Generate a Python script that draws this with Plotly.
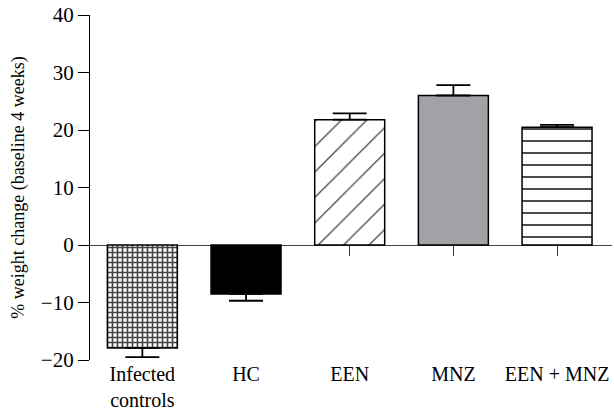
import plotly.graph_objects as go

categories = ["Infected<br>controls", "HC", "EEN", "MNZ", "EEN + MNZ"]
means = [-17.9, -8.5, 21.8, 26.0, 20.5]
errors = [1.6, 1.2, 1.1, 1.8, 0.4]
y_ticks = [-20, -10, 0, 10, 20, 30, 40]
y_title = "% weight change (baseline 4 weeks)"

fill_colors = ["white", "black", "white", "#a2a2a6", "white"]
pattern_shapes = ["+", "", "/", "", "-"]
pattern_sizes = [5, 8, 18, 8, 12]
pattern_solidity = [0.55, 0.3, 0.07, 0.3, 0.16]

err_plus = [e if m > 0 else 0 for m, e in zip(means, errors)]
err_minus = [e if m < 0 else 0 for m, e in zip(means, errors)]

FONT = "Liberation Serif"

fig = go.Figure()
fig.add_trace(go.Bar(
    x=categories, y=means, width=0.675,
    marker=dict(
        color=fill_colors,
        line=dict(color="black", width=1.5),
        pattern=dict(shape=pattern_shapes, size=pattern_sizes,
                     solidity=pattern_solidity, fgcolor="black",
                     fgopacity=1, fillmode="overlay"),
    ),
    error_y=dict(type="data", symmetric=False, array=err_plus,
                 arrayminus=err_minus, color="black", thickness=1.8, width=17),
    showlegend=False, hoverinfo="skip",
))
# invisible trace to carry the zero-crossing axis
fig.add_trace(go.Scatter(x=categories, y=[0] * len(categories), xaxis="x2",
                         mode="markers", marker=dict(opacity=0),
                         showlegend=False, hoverinfo="skip"))

xr = [-0.505, 4.53]
fig.update_layout(
    width=614, height=416,
    margin=dict(l=90, r=2, t=15, b=56),
    plot_bgcolor="white", paper_bgcolor="white",
    font=dict(family=FONT, size=20, color="black"),
    xaxis=dict(type="category", categoryarray=categories, range=xr,
               showline=False, ticks="", showgrid=False, zeroline=False,
               tickfont=dict(size=20), ticklabelstandoff=0),
    xaxis2=dict(type="category", categoryarray=categories, range=xr,
                overlaying="x", anchor="free", position=1/3, side="bottom",
                layer="below traces",
                showline=True, linecolor="#444", linewidth=1.3,
                ticks="outside", ticklen=10, tickwidth=1.3, tickcolor="#333",
                showticklabels=False, showgrid=False, zeroline=False),
    yaxis=dict(range=[-20, 40], tickvals=y_ticks,
               ticktext=[("\u2212" + str(-v)) if v < 0 else str(v) for v in y_ticks],
               showline=True, linecolor="black", linewidth=1.3,
               ticks="outside", ticklen=11, tickwidth=1.3, tickcolor="black",
               showgrid=False, zeroline=False, tickfont=dict(size=21),
               title=dict(text=y_title, font=dict(size=18), standoff=11)),
)
fig.write_html("out.html")
